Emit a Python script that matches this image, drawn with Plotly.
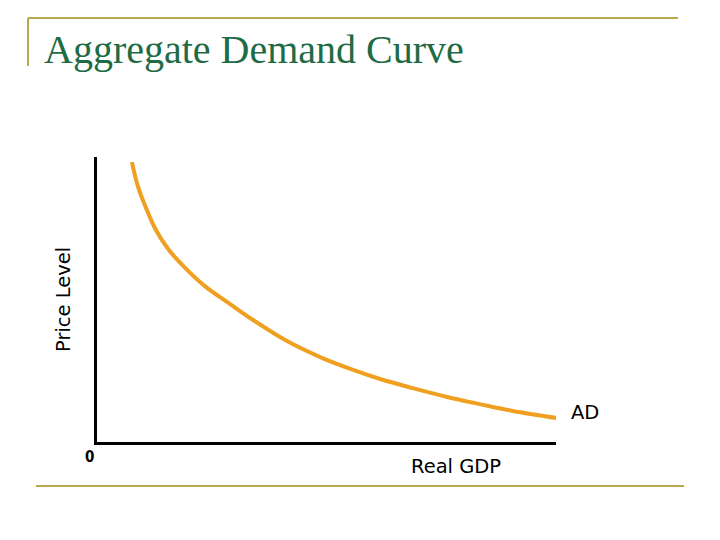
import plotly.graph_objects as go

W, H = 720, 540
OFF = 8  # page body margin of the html page

# Aggregate demand curve (real GDP vs price level)
gdp = [7.6, 8.9, 10.5, 12.6, 15.5, 19.2, 23.5, 29.0, 34.0, 41.4, 48.6, 55.8, 61.7, 68.8, 76.3, 83.4, 90.6, 101.5]
price = [98.2, 89.8, 82.8, 75.1, 67.7, 61.1, 54.7, 48.4, 42.8, 35.4, 29.8, 25.3, 22.1, 18.9, 15.8, 13.3, 10.9, 8.1]

title_text = "Aggregate Demand Curve"
x_label = "Real GDP"
y_label = "Price Level"
curve_label = "AD"
origin_label = "0"

def px(x):
    return (x - OFF) / W

def py(y):
    return 1 - (y - OFF) / H

fig = go.Figure()
fig.add_trace(go.Scatter(
    x=gdp, y=price, mode="lines",
    line=dict(color="#F0A020", width=4, shape="spline", smoothing=1.0),
    cliponaxis=False, hoverinfo="skip", showlegend=False,
))

gold = "#B8A84E"
shapes = [
    dict(type="line", xref="paper", yref="paper", x0=px(28), x1=px(678), y0=py(18), y1=py(18),
         line=dict(color=gold, width=2)),
    dict(type="line", xref="paper", yref="paper", x0=px(28), x1=px(28), y0=py(18), y1=py(66),
         line=dict(color=gold, width=2)),
    dict(type="line", xref="paper", yref="paper", x0=px(36), x1=px(684), y0=py(486), y1=py(486),
         line=dict(color=gold, width=2)),
]

annotations = [
    dict(text=title_text, xref="paper", yref="paper", x=px(42), y=py(49), xanchor="left", yanchor="middle",
         showarrow=False, font=dict(family="Liberation Serif", size=40, color="#1E6B45")),
    dict(text=y_label, xref="paper", yref="paper", x=px(63), y=py(300), xanchor="center", yanchor="middle",
         textangle=-90, showarrow=False, font=dict(family="DejaVu Sans", size=19.5, color="black")),
    dict(text=x_label, xref="paper", yref="paper", x=px(456), y=py(466), xanchor="center", yanchor="middle",
         showarrow=False, font=dict(family="DejaVu Sans", size=19.5, color="black")),
    dict(text=curve_label, xref="paper", yref="paper", x=px(585), y=py(412), xanchor="center", yanchor="middle",
         showarrow=False, font=dict(family="DejaVu Sans", size=19.5, color="black")),
    dict(text="<b>" + origin_label + "</b>", xref="paper", yref="paper", x=px(89), y=py(457), xanchor="center", yanchor="middle",
         showarrow=False, font=dict(family="DejaVu Sans Condensed", size=15, color="black")),
]

fig.update_layout(
    width=W, height=H,
    margin=dict(l=0, r=0, t=0, b=0),
    paper_bgcolor="white", plot_bgcolor="white",
    shapes=shapes, annotations=annotations,
    xaxis=dict(domain=[px(97), px(556)], range=[0, 100], showgrid=False, zeroline=False,
               showticklabels=False, ticks="", showline=True, linecolor="black", linewidth=3, fixedrange=True),
    yaxis=dict(domain=[py(442), py(157)], range=[0, 100], showgrid=False, zeroline=False,
               showticklabels=False, ticks="", showline=True, linecolor="black", linewidth=3, fixedrange=True),
)

fig.write_html("out.html")
